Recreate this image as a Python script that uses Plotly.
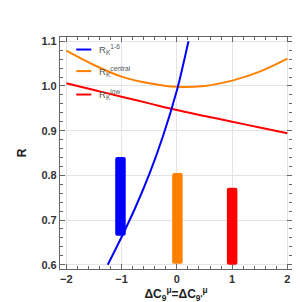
import plotly.graph_objects as go

# Curves
x_grid = [-2, -1.5, -1, -0.5, 0, 0.5, 1, 1.5, 2]
r_central = [1.079, 1.047, 1.021, 1.006, 0.998, 1.000, 1.012, 1.032, 1.061]
r_low = [1.006, 0.991, 0.976, 0.961, 0.946, 0.933, 0.920, 0.907, 0.894]
x_16 = [-1.25, -1.0, -0.75, -0.5, -0.25, 0.0, 0.1, 0.21]
r_16 = [0.600, 0.662, 0.728, 0.802, 0.888, 0.990, 1.040, 1.100]

# Measurement bands
band_x = [-1.02, 0.01, 1.0]
band_lo = [0.665, 0.602, 0.600]
band_hi = [0.841, 0.805, 0.772]
band_colors = ["#0000ff", "#ff8000", "#ff0000"]

legend_labels = ["R<sub>K</sub><sup>1-6</sup>", "R<sub>K</sub><sup>central</sup>", "R<sub>K</sub><sup>low</sup>"]
legend_colors = ["#0000ff", "#ff8000", "#ff0000"]

fig = go.Figure()

fig.add_trace(go.Bar(
    x=band_x, y=[h - l for h, l in zip(band_hi, band_lo)], base=band_lo,
    width=0.19, marker=dict(color=band_colors, line=dict(width=0)),
    showlegend=False))

fig.add_trace(go.Scatter(x=x_grid, y=r_low, mode="lines", line=dict(color="#ff0000", width=2, shape="spline"), showlegend=False))
fig.add_trace(go.Scatter(x=x_grid, y=r_central, mode="lines", line=dict(color="#ff8000", width=2, shape="spline"), showlegend=False))
fig.add_trace(go.Scatter(x=x_16, y=r_16, mode="lines", line=dict(color="#0000ff", width=2, shape="spline"), showlegend=False))

# custom legend
leg_y = [0.946, 0.853, 0.752]
for lab, col, yy in zip(legend_labels, legend_colors, leg_y):
    fig.add_shape(type="line", xref="paper", yref="paper", x0=0.07, x1=0.135, y0=yy, y1=yy,
                  line=dict(color=col, width=2))
    fig.add_annotation(xref="paper", yref="paper", x=0.158, y=yy, text=lab, showarrow=False,
                       xanchor="left", yanchor="middle", font=dict(family="Liberation Sans", size=9.5, color="#555"))

axis_common = dict(
    showline=True, linecolor="#666", linewidth=1.2, mirror="allticks",
    ticks="inside", ticklen=5, tickcolor="#666", tickwidth=1,
    showgrid=True, gridcolor="#e4e4e4", gridwidth=1, zeroline=False,
    tickfont=dict(family="Liberation Sans", size=11, color="#333", weight="bold"),
)

fig.update_xaxes(range=[-2.114, 2.083], tickvals=[-2, -1, 0, 1, 2], ticktext=["−2", "−1", "0", "1", "2"],
                 minor=dict(dtick=0.2, ticks="inside", ticklen=3, tickcolor="#666", showgrid=False),
                 title=dict(text="<b>ΔC<sub>9</sub><sup>μ</sup>=ΔC<sub>9'</sub><sup>μ</sup></b>",
                            font=dict(family="Liberation Sans", size=12, color="#222"), standoff=3),
                 **axis_common)
fig.update_yaxes(range=[0.5904, 1.1096], tickvals=[0.6, 0.7, 0.8, 0.9, 1.0, 1.1],
                 ticktext=["0.6", "0.7", "0.8", "0.9", "1.0", "1.1"],
                 minor=dict(dtick=0.02, ticks="inside", ticklen=3, tickcolor="#666", showgrid=False),
                 title=dict(text="<b>R</b>", font=dict(family="Liberation Sans", size=12, color="#222"), standoff=12),
                 **axis_common)

fig.update_layout(width=300, height=302, margin=dict(l=52, r=16, t=29, b=41),
                  plot_bgcolor="white", paper_bgcolor="white", barcornerradius=2)

fig.write_html("out.html")
